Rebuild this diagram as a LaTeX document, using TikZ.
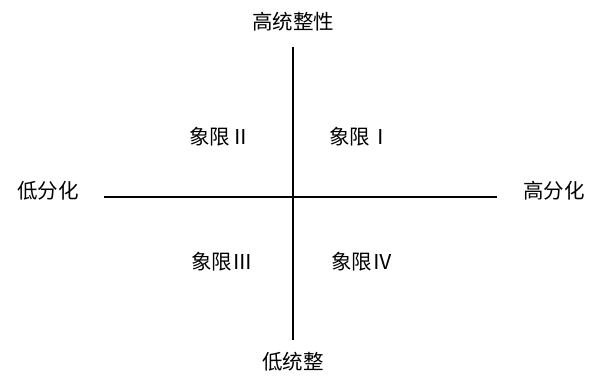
\documentclass[tikz,border=0pt]{standalone}
\usepackage{fontspec}
\usepackage{tikz}
\newfontfamily\cjk{Noto Sans CJK SC}
\usetikzlibrary{positioning}

\tikzset{
  lbl/.style={font=\cjk\fontsize{20.5}{22}\selectfont, inner sep=0pt},
  axis/.style={line width=1.6pt, black}
}

\begin{document}
\begin{tikzpicture}[x=1pt, y=-1pt]
      \useasboundingbox (0,0) rectangle (589,385);
      \coordinate (top) at (293,47);
      \coordinate (bottom) at (293,340);
      \coordinate (left) at (104,197);
      \coordinate (right) at (497,197);
      \draw[axis] (top) -- (bottom);
      \draw[axis] (left) -- (right);
      \node[lbl] (hiint) at (293,22) {高统整性};
      \node[lbl] (loint) at (293,362) {低统整};
      \node[lbl] (lodiff) at (48,191) {低分化};
      \node[lbl] (hidiff) at (554,191) {高分化};
      \node[lbl] (q2) at (220,137) {象限Ⅱ};
      \node[lbl] (q1) at (360,137) {象限Ⅰ};
      \node[lbl] (q3) at (222,262) {象限Ⅲ};
      \node[lbl] (q4) at (362,262) {象限Ⅳ};
    \end{tikzpicture}
\end{document}
